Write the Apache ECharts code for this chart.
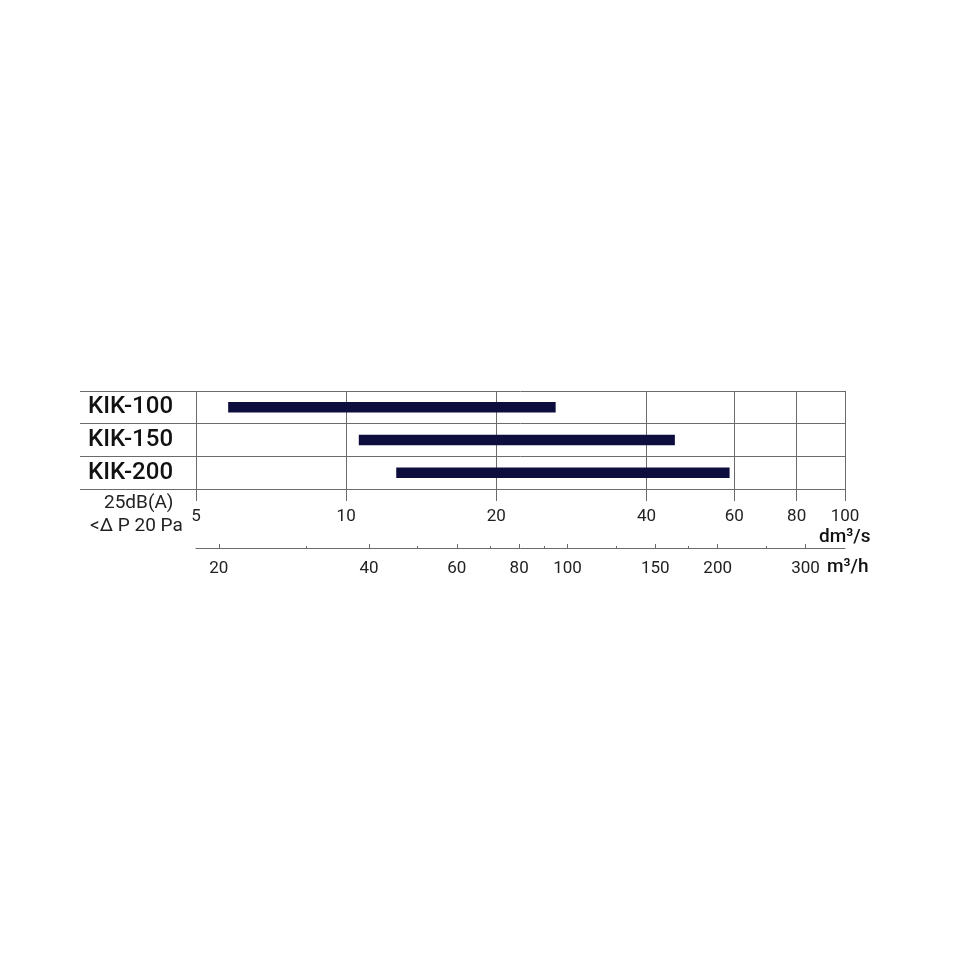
<!DOCTYPE html>
<html><head><meta charset="utf-8">
<script src="https://cdn.jsdelivr.net/npm/echarts@6/dist/echarts.min.js"></script>
<style>html,body{margin:0;padding:0;background:#fff}#c{width:958px;height:958px}</style>
</head><body><div id="c"></div>
<script>
const categories = ['KIK-100', 'KIK-150', 'KIK-200'];
const flowMin = [5.8, 10.6, 12.6];      // dm3/s
const flowMax = [26.3, 45.6, 58.7];     // dm3/s
const dmTicks = [5, 10, 20, 40, 60, 80, 100];
const m3hTicks = [20, 40, 60, 80, 100, 150, 200, 300];
const m3hMinorTicks = [30, 50, 70, 90, 125, 175, 250];
const dmMin = 5, dmMax = 100;
const m3hPerDm = 3.6;

const FONT = "Roboto, 'DejaVu Sans', sans-serif";
const LINE = '#6b6b6b';
const BAR = '#0e0e3e';

const chart = echarts.init(document.getElementById('c'), null, {renderer: 'canvas'});
const barData = categories.map((c, i) => [i, flowMin[i], flowMax[i]]);

chart.setOption({
  animation: false,
  backgroundColor: '#fff',
  grid: [
    {left: 80, width: 116, top: 391, height: 98},
    {left: 196, right: 113, top: 391, height: 98},
    {left: 196, right: 113, top: 547, height: 1}
  ],
  xAxis: [
    {gridIndex: 0, type: 'value', show: false},
    {gridIndex: 1, type: 'log', min: dmMin, max: dmMax, position: 'bottom',
     axisLine: {show: true, lineStyle: {color: LINE, width: 1}},
     axisTick: {show: true, length: 12, customValues: dmTicks, lineStyle: {color: LINE}},
     axisLabel: {customValues: dmTicks, margin: 19, fontSize: 17, color: '#222', fontFamily: FONT},
     splitLine: {show: true, lineStyle: {color: LINE, width: 1}},
     minorTick: {show: false}, minorSplitLine: {show: false}},
    {gridIndex: 2, type: 'log', min: dmMin * m3hPerDm, max: dmMax * m3hPerDm, position: 'bottom',
     axisLine: {show: true, lineStyle: {color: LINE, width: 1}},
     axisTick: {show: true, inside: true, length: 4, customValues: m3hTicks, lineStyle: {color: LINE}},
     axisLabel: {customValues: m3hTicks, margin: 12, fontSize: 17, color: '#222', fontFamily: FONT},
     splitLine: {show: false}},
    {gridIndex: 2, type: 'log', min: dmMin * m3hPerDm, max: dmMax * m3hPerDm, position: 'bottom',
     axisLine: {show: false},
     axisTick: {show: true, inside: true, length: 2, customValues: m3hMinorTicks, lineStyle: {color: LINE}},
     axisLabel: {show: false},
     splitLine: {show: false}}
  ],
  yAxis: [
    {gridIndex: 0, type: 'category', data: categories, inverse: true,
     axisLine: {show: false}, axisTick: {show: false},
     axisLabel: {inside: true, margin: 8, fontSize: 24, fontWeight: 500, color: '#111', fontFamily: FONT},
     splitLine: {show: true, lineStyle: {color: LINE, width: 1}}},
    {gridIndex: 1, type: 'category', data: categories, inverse: true,
     axisLine: {show: false}, axisTick: {show: false}, axisLabel: {show: false},
     splitLine: {show: true, lineStyle: {color: LINE, width: 1}}},
    {gridIndex: 2, type: 'value', show: false}
  ],
  series: [{
    type: 'custom',
    xAxisIndex: 1, yAxisIndex: 1,
    data: barData,
    encode: {x: [1, 2], y: 0},
    renderItem: function (params, api) {
      const cat = api.value(0);
      const p0 = api.coord([api.value(1), cat]);
      const p1 = api.coord([api.value(2), cat]);
      const h = api.size([0, 1])[1] * 0.32;
      return {type: 'rect', shape: {x: p0[0], y: p0[1] - h / 2, width: p1[0] - p0[0], height: h},
              style: {fill: BAR}};
    }
  }],
  graphic: [
    {type: 'text', left: 104, top: 494, style: {text: '25dB(A)', fontSize: 19, fill: '#222', fontFamily: FONT}},
    {type: 'text', left: 90, top: 517, style: {text: '<Δ P 20 Pa', fontSize: 19, fill: '#222', fontFamily: FONT}},
    {type: 'text', left: 819, top: 528, style: {text: 'dm³/s', fontSize: 19, fontWeight: 500, fill: '#111', fontFamily: FONT}},
    {type: 'text', left: 827, top: 558, style: {text: 'm³/h', fontSize: 19, fontWeight: 500, fill: '#111', fontFamily: FONT}}
  ]
});
</script></body></html>
